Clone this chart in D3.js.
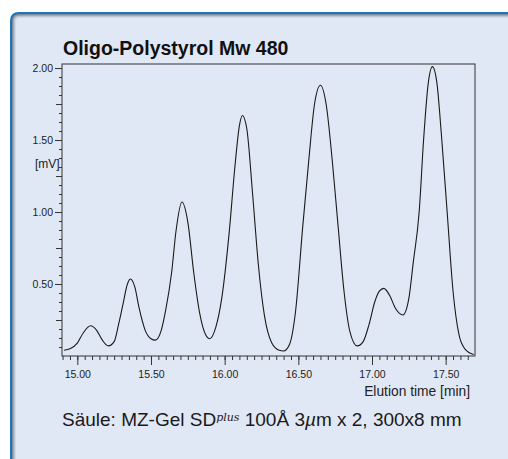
<!DOCTYPE html>
<html>
<head>
<meta charset="utf-8">
<script src="https://cdn.jsdelivr.net/npm/d3@7"></script>
<style>
  html, body { margin: 0; padding: 0; background: #fff; overflow: hidden; }
  svg { display: block; }
</style>
</head>
<body>
<div id="chart"></div>
<script>
// elution time [min] and detector signal [mV]
const times = [
  14.91, 14.95, 15.00, 15.04, 15.09, 15.13, 15.17, 15.21, 15.25,
  15.28, 15.31, 15.34, 15.36, 15.39, 15.42, 15.46, 15.50, 15.53, 15.57,
  15.60, 15.64, 15.67, 15.71, 15.75, 15.79, 15.83, 15.87, 15.90, 15.94,
  15.98, 16.03, 16.07, 16.10, 16.12, 16.15, 16.19, 16.23, 16.27, 16.32, 16.37, 16.40, 16.44,
  16.48, 16.53, 16.57, 16.61, 16.65, 16.69, 16.73, 16.77, 16.81, 16.85, 16.90, 16.94, 16.98,
  17.02, 17.05, 17.08, 17.12, 17.16, 17.21, 17.25,
  17.28, 17.32, 17.35, 17.38, 17.41, 17.44, 17.47, 17.51, 17.55, 17.59, 17.63, 17.69
];
const signal = [
  0.04, 0.05, 0.09, 0.16, 0.21, 0.18, 0.11, 0.07, 0.10,
  0.22, 0.36, 0.50, 0.535, 0.48, 0.33, 0.18, 0.12, 0.11, 0.18,
  0.32, 0.58, 0.87, 1.07, 0.93, 0.58, 0.30, 0.15, 0.12, 0.20,
  0.40, 0.85, 1.32, 1.60, 1.67, 1.58, 1.12, 0.62, 0.28, 0.09, 0.04, 0.035, 0.08,
  0.30, 0.90, 1.35, 1.75, 1.88, 1.74, 1.36, 0.90, 0.45, 0.17, 0.07, 0.10, 0.22,
  0.38, 0.45, 0.47, 0.42, 0.33, 0.285, 0.40,
  0.65, 1.00, 1.50, 1.88, 2.01, 1.90, 1.55, 1.00, 0.45, 0.15, 0.05, 0.01
];
const xTickLabels = ['15.00', '15.50', '16.00', '16.50', '17.00', '17.50'];
const yTickLabels = ['0.50', '1.00', '1.50', '2.00'];

const WIDTH = 508;
const HEIGHT = 459;
const PLOT = { left: 62, top: 64, right: 475, bottom: 356 };
const NARROW = '"Liberation Sans Narrow", "Arial Narrow", "Liberation Sans", sans-serif';
const SANS = '"Liberation Sans", Arial, Helvetica, sans-serif';

const svg = d3.select('#chart').append('svg')
  .attr('width', WIDTH)
  .attr('height', HEIGHT);

// panel: blue edge top/left, soft inner shadow, runs off right and bottom
function cornerPath(x0, y0, r) {
  return `M${x0},${HEIGHT} L${x0},${y0 + r} Q${x0},${y0} ${x0 + r},${y0} L${WIDTH},${y0} L${WIDTH},${HEIGHT} Z`;
}
const edges = ['#1e74bd', '#2a6fa8', '#7e8c9c', '#9ea9b7', '#bcc5d2', '#d2d9e6'];
const panel = svg.append('g').attr('class', 'panel');
edges.forEach((c, i) => {
  panel.append('path')
    .attr('fill', c)
    .attr('d', cornerPath(10 + i, 12 + i, Math.max(2, 9 - i)));
});
panel.append('path')
  .attr('fill', '#e1e8f5')
  .attr('d', cornerPath(16, 18, 4));

const x = d3.scaleLinear()
  .domain([14.896, 17.699])
  .range([PLOT.left, PLOT.right]);
const y = d3.scaleLinear()
  .domain([0, 2.028])
  .range([PLOT.bottom, PLOT.top]);

// title
svg.append('text')
  .attr('x', 63)
  .attr('y', 55)
  .attr('font-family', SANS)
  .attr('font-weight', 'bold')
  .attr('font-size', 19.5)
  .attr('fill', '#111')
  .text('Oligo-Polystyrol Mw 480');

// frame
svg.append('rect')
  .attr('x', PLOT.left)
  .attr('y', PLOT.top)
  .attr('width', PLOT.right - PLOT.left)
  .attr('height', PLOT.bottom - PLOT.top)
  .attr('fill', 'none')
  .attr('stroke', '#333')
  .attr('stroke-width', 1);

// x axis: minor ticks every 0.05, labelled every 0.5
const xMinorTicks = d3.range(298, 354).map(d => d / 20);
const xAxisMinor = d3.axisBottom(x)
  .tickValues(xMinorTicks)
  .tickSize(4)
  .tickFormat('');
const xAxisMajor = d3.axisBottom(x)
  .tickValues(xTickLabels.map(Number))
  .tickSize(9)
  .tickPadding(6)
  .tickFormat((d, i) => xTickLabels[i]);

[xAxisMinor, xAxisMajor].forEach(ax => {
  const g = svg.append('g')
    .attr('transform', `translate(0,${PLOT.bottom})`)
    .call(ax);
  g.select('.domain').remove();
  g.selectAll('line').attr('stroke', '#333');
  g.selectAll('text')
    .attr('font-family', NARROW)
    .attr('font-size', 10.5)
    .attr('fill', '#222');
});

svg.append('text')
  .attr('x', 470)
  .attr('y', 396)
  .attr('text-anchor', 'end')
  .attr('font-family', SANS)
  .attr('font-size', 13.8)
  .attr('fill', '#222')
  .text('Elution time [min]');

// y axis: minor every 0.0625, medium every 0.25, labelled every 0.5
const yMinorTicks = d3.range(1, 33).map(d => d * 0.0625);
const yAxisMinor = d3.axisLeft(y)
  .tickValues(yMinorTicks.filter(d => (d * 4) % 1 !== 0))
  .tickSize(3)
  .tickFormat('');
const yAxisMedium = d3.axisLeft(y)
  .tickValues(yMinorTicks.filter(d => (d * 4) % 1 === 0 && (d * 2) % 1 !== 0))
  .tickSize(6)
  .tickFormat('');
const yAxisMajor = d3.axisLeft(y)
  .tickValues(yTickLabels.map(Number))
  .tickSize(7)
  .tickPadding(2)
  .tickFormat((d, i) => yTickLabels[i]);

[yAxisMinor, yAxisMedium, yAxisMajor].forEach(ax => {
  const g = svg.append('g')
    .attr('transform', `translate(${PLOT.left},0)`)
    .call(ax);
  g.select('.domain').remove();
  g.selectAll('line').attr('stroke', '#333');
  g.selectAll('text')
    .attr('font-family', NARROW)
    .attr('font-size', 10.5)
    .attr('fill', '#222');
});

svg.append('text')
  .attr('x', 35)
  .attr('y', 168)
  .attr('font-family', SANS)
  .attr('font-size', 12)
  .attr('fill', '#222')
  .text('[mV]');

// chromatogram trace
const points = times.map((t, i) => [t, signal[i]]);
svg.append('path')
  .datum(points)
  .attr('fill', 'none')
  .attr('stroke', '#1a1a1a')
  .attr('stroke-width', 1.1)
  .attr('d', d3.line()
    .curve(d3.curveMonotoneX)
    .x(d => x(d[0]))
    .y(d => y(d[1])));

// column caption
const cap = svg.append('text')
  .attr('x', 62)
  .attr('y', 426)
  .attr('font-family', SANS)
  .attr('font-size', 19)
  .attr('fill', '#1a1a1a');
cap.append('tspan').text('Säule: MZ-Gel SD');
cap.append('tspan')
  .attr('dy', -5)
  .attr('font-size', 11)
  .attr('font-style', 'italic')
  .attr('font-family', '"DejaVu Serif", serif')
  .text('plus');
cap.append('tspan').attr('dy', 5).text(' 100Å 3');
cap.append('tspan').attr('font-style', 'italic').text('µ');
cap.append('tspan').text('m x 2, 300x8 mm');
</script>
</body>
</html>
